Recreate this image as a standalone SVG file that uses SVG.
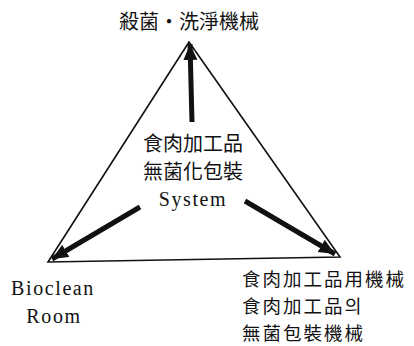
<svg xmlns="http://www.w3.org/2000/svg" width="414" height="346" viewBox="0 0 414 346">
<style>
.cjk{font-family:"Noto Sans CJK TC","Noto Sans CJK KR",sans-serif;font-size:20px;fill:#111}
.cjk-r{font-family:"Noto Sans CJK TC","Noto Sans CJK KR",sans-serif;font-size:18.5px;letter-spacing:2px;fill:#111}
.lat{font-family:"Liberation Serif",serif;font-size:20px;fill:#111;letter-spacing:1.6px}
.edge{stroke:#111;stroke-width:1.6;fill:none}
.arrow{stroke:#111;stroke-width:5;fill:none;stroke-linecap:butt}
</style>
<defs>
<marker id="ah" markerUnits="userSpaceOnUse" markerWidth="18" markerHeight="16" refX="16" refY="7" orient="auto">
<path d="M0,0 L16,7 L0,14 Z" fill="#111"/>
</marker>
</defs>
<rect width="414" height="346" fill="#fff"/>
<g id="triangle">
<path class="edge" d="M189,42 L48,262 L340,257 Z"/>
</g>
<g id="connectors">
<line class="arrow" x1="192" y1="122" x2="190" y2="44" marker-end="url(#ah)"/>
<line class="arrow" x1="140" y1="207" x2="52" y2="259" marker-end="url(#ah)"/>
<line class="arrow" x1="245" y1="201" x2="335" y2="254" marker-end="url(#ah)"/>
</g>
<g id="node-top">
<text class="cjk" x="189" y="29" text-anchor="middle">殺菌・洗淨機械</text>
</g>
<g id="node-center">
<text class="cjk" x="193" y="151" text-anchor="middle">食肉加工品</text>
<text class="cjk" x="193" y="179" text-anchor="middle">無菌化包裝</text>
<text class="lat" x="193" y="206" text-anchor="middle">System</text>
</g>
<g id="node-left">
<text class="lat" x="53" y="295" text-anchor="middle">Bioclean</text>
<text class="lat" x="54" y="323" text-anchor="middle">Room</text>
</g>
<g id="node-right">
<text class="cjk-r" x="242" y="286">食肉加工品用機械</text>
<text class="cjk-r" x="242" y="313">食肉加工品의</text>
<text class="cjk-r" x="242" y="340">無菌包裝機械</text>
</g>
</svg>
